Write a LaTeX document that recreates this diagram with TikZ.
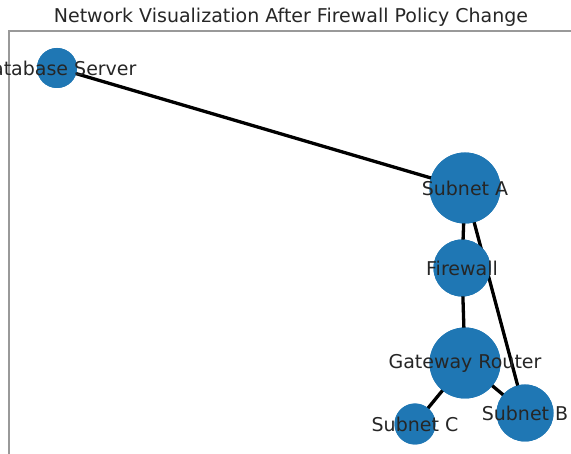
\documentclass[tikz,border=0pt]{standalone}
\usepackage{fontspec}
\setmainfont{DejaVu Sans}
\definecolor{nodeblue}{HTML}{1F77B4}
\definecolor{frame}{HTML}{999999}
\begin{document}
\begin{tikzpicture}[x=1pt,y=-1pt,
  netnode/.style={circle,fill=nodeblue,draw=none,inner sep=0pt},
  edge/.style={line width=3.3pt,black},
  lbl/.style={font=\fontsize{19}{22}\selectfont,text=black!85,inner sep=0pt},
]
\useasboundingbox (0,0) rectangle (571,454);
\clip (0,0) rectangle (571,454);
\fill[white] (0,0) rectangle (571,454);
\node[lbl] (title) at (291,17) {Network Visualization After Firewall Policy Change};
\draw[frame,line width=2pt] (9,460) -- (9,31) -- (580,31);
\node[netnode,minimum size=40pt] (db) at (57,68) {};
\node[netnode,minimum size=71pt] (sa) at (465,188) {};
\node[netnode,minimum size=57pt] (fw) at (462,268) {};
\node[netnode,minimum size=71pt] (gw) at (465,363) {};
\node[netnode,minimum size=41pt] (sc) at (415,424) {};
\node[netnode,minimum size=57pt] (sb) at (525,413) {};
\draw[edge] (db.center) -- (sa.center);
\draw[edge] (sa.center) -- (fw.center);
\draw[edge] (sa.center) -- (sb.center);
\draw[edge] (fw.center) -- (gw.center);
\draw[edge] (gw.center) -- (sc.center);
\draw[edge] (gw.center) -- (sb.center);
\fill[nodeblue] (db) circle (20);
\fill[nodeblue] (sa) circle (35.5);
\fill[nodeblue] (fw) circle (28.5);
\fill[nodeblue] (gw) circle (35.5);
\fill[nodeblue] (sc) circle (20.5);
\fill[nodeblue] (sb) circle (28.5);
\node[lbl] (ldb) at (db) {Database Server};
\node[lbl] (lsa) at (sa) {Subnet A};
\node[lbl] (lfw) at (fw) {Firewall};
\node[lbl] (lgw) at (gw) {Gateway Router};
\node[lbl] (lsc) at (sc) {Subnet C};
\node[lbl] (lsb) at (sb) {Subnet B};
\end{tikzpicture}
\end{document}
